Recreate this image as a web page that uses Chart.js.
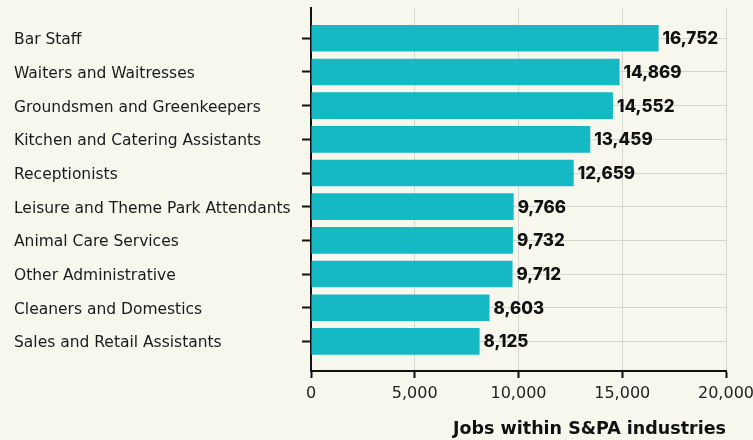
<!DOCTYPE html>
<html>
<head>
<meta charset="utf-8">
<script src="https://cdn.jsdelivr.net/npm/chart.js@4"></script>
<style>
  html, body { margin: 0; padding: 0; background: #f8f7ee; }
  #wrap { width: 753px; height: 440px; position: relative; }
</style>
</head>
<body>
<div id="wrap"><canvas id="c"></canvas></div>
<script>
const categories = [
  "Bar Staff",
  "Waiters and Waitresses",
  "Groundsmen and Greenkeepers",
  "Kitchen and Catering Assistants",
  "Receptionists",
  "Leisure and Theme Park Attendants",
  "Animal Care Services",
  "Other Administrative",
  "Cleaners and Domestics",
  "Sales and Retail Assistants"
];
const jobs = [16752, 14869, 14552, 13459, 12659, 9766, 9732, 9712, 8603, 8125];
const xTicks = [0, 5000, 10000, 15000, 20000];
const axisTitle = "Jobs within S&PA industries";

const FONT = "'DejaVu Sans', sans-serif";
const VFONT = "Inter, sans-serif";

const valueLabels = {
  id: 'valueLabels',
  afterDatasetsDraw(chart) {
    const ctx = chart.ctx;
    const meta = chart.getDatasetMeta(0);
    ctx.save();
    ctx.font = "800 17px " + VFONT;
    ctx.fillStyle = "#111111";
    ctx.textAlign = "left";
    ctx.textBaseline = "middle";
    meta.data.forEach((bar, i) => {
      ctx.fillText(jobs[i].toLocaleString('en-US'), bar.x + 4, bar.y + 1);
    });
    ctx.restore();
  }
};

new Chart(document.getElementById('c'), {
  type: 'bar',
  data: {
    datasets: [{
      data: jobs.map((v, i) => ({ x: v, y: i })),
      backgroundColor: '#14b9c3',
      borderWidth: 0,
      categoryPercentage: 1,
      barPercentage: 0.79
    }]
  },
  plugins: [valueLabels],
  options: {
    indexAxis: 'y',
    responsive: true,
    maintainAspectRatio: false,
    animation: false,
    layout: { padding: { left: 14, top: 8, right: 0, bottom: 0 } },
    plugins: { legend: { display: false }, tooltip: { enabled: false } },
    scales: {
      y: {
        type: 'linear',
        reverse: true,
        offset: false,
        min: -0.9,
        max: 9.88,
        afterBuildTicks: s => { s.ticks = categories.map((c, i) => ({ value: i })); },
        afterFit: s => { s.width = 297; s.paddingTop = 0; s.paddingBottom = 0; },
        ticks: {
          callback: (v) => categories[v],
          crossAlign: 'far',
          color: '#1a1a1a',
          font: { family: FONT, size: 15.5 },
          padding: 6,
          labelOffset: 2
        },
        grid: {
          offset: false,
          color: '#d6d6d0',
          lineWidth: 1,
          tickColor: '#111111',
          tickLength: 9,
          tickWidth: 2,
          drawOnChartArea: true
        },
        border: { color: '#111111', width: 2 }
      },
      x: {
        type: 'linear',
        min: 0,
        max: 20000,
        offset: false,
        afterBuildTicks: s => { s.ticks = xTicks.map(v => ({ value: v })); },
        afterFit: s => { s.paddingRight = 27; s.height = 69; },
        ticks: {
          callback: v => v.toLocaleString('en-US'),
          color: '#222222',
          font: { family: FONT, size: 16 },
          padding: 6,
          maxRotation: 0
        },
        grid: {
          color: '#d6d6d0',
          lineWidth: 1,
          tickColor: '#111111',
          tickLength: 7,
          tickWidth: 2
        },
        border: { color: '#111111', width: 2 },
        title: {
          display: true,
          text: axisTitle,
          align: 'end',
          color: '#111111',
          font: { family: FONT, size: 17.5, weight: 'bold' },
          padding: { top: 14, bottom: 0 }
        }
      }
    }
  }
});
</script>
</body>
</html>
